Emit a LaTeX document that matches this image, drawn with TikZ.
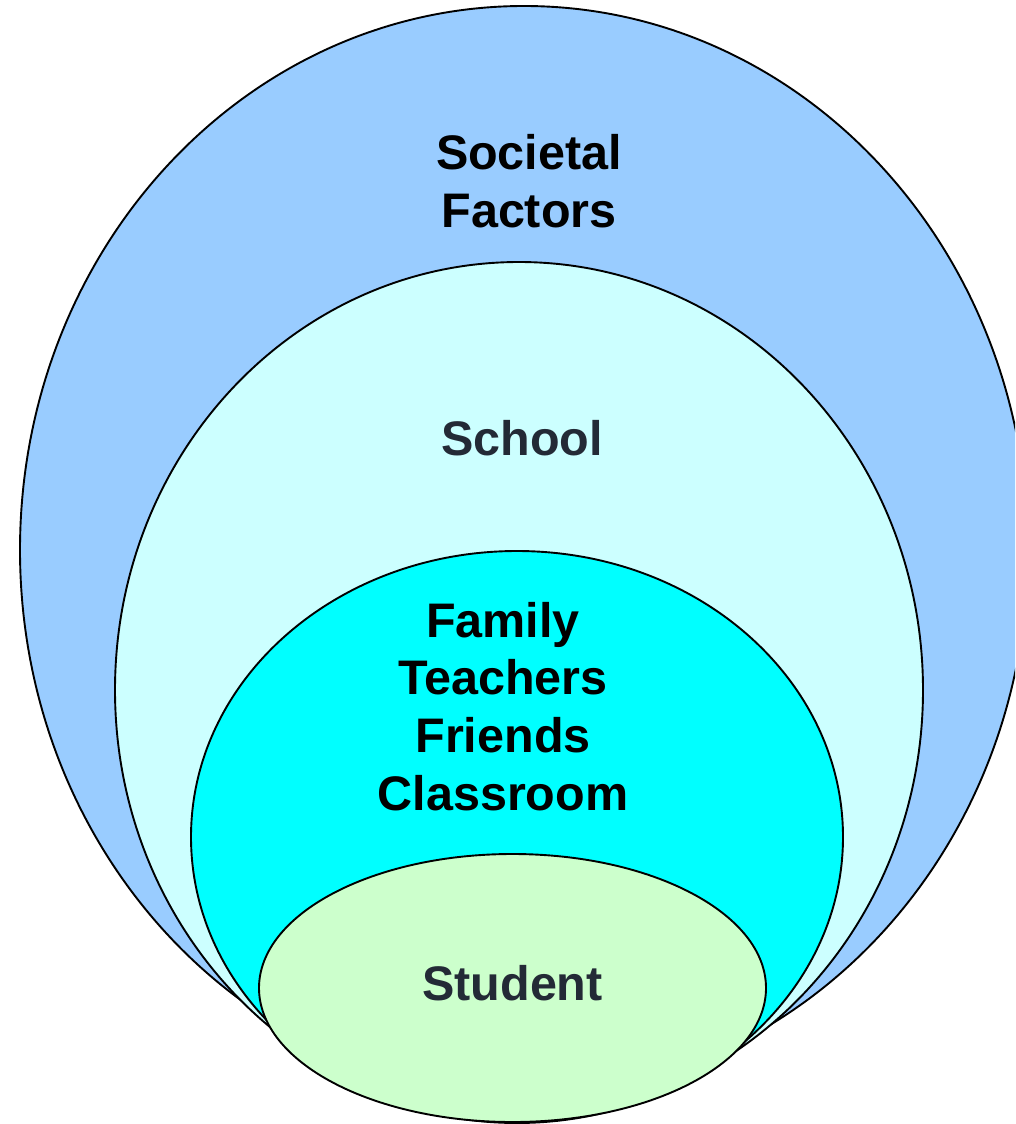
\documentclass[tikz,border=0pt]{standalone}
\usepackage{fontspec}
\setmainfont{Liberation Sans}
\definecolor{societyblue}{RGB}{153,204,255}
\definecolor{schoolcyan}{RGB}{204,255,255}
\definecolor{familycyan}{RGB}{0,255,255}
\definecolor{studentgreen}{RGB}{204,255,204}
\definecolor{darktext}{RGB}{35,42,54}
\begin{document}
\begin{tikzpicture}[x=1pt,y=-1pt,
  ring/.style={draw=black,line width=1.9pt},
  lbl/.style={inner sep=0pt,anchor=base,font=\bfseries\fontsize{48.5}{57.7}\selectfont}]
\useasboundingbox (0,0) rectangle (1015,1124);
\clip (0,0) rectangle (1015,1124);
\path[ring,fill=societyblue] (524,550) ellipse [x radius=504,y radius=544];
\path[ring,fill=schoolcyan] (519,690) ellipse [x radius=404,y radius=428];
\path[ring,fill=familycyan] (517,837) ellipse [x radius=326,y radius=286];
\path[ring,fill=studentgreen] (512.5,988) ellipse [x radius=253.5,y radius=134];
\node[lbl,text=black] (societal) at (529,169.5) {\begin{tabular}[t]{@{}c@{}}Societal\\Factors\end{tabular}};
\node[lbl,text=darktext] (school) at (522,455) {School};
\node[lbl,text=black] (family) at (503,637) {\begin{tabular}[t]{@{}c@{}}Family\\Teachers\\Friends\\Classroom\end{tabular}};
\node[lbl,text=darktext] (student) at (512.5,1000) {Student};
\end{tikzpicture}
\end{document}
